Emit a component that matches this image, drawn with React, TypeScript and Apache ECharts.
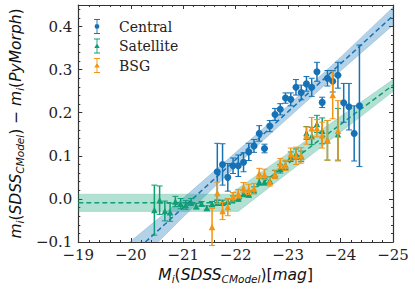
import React, { useEffect, useRef } from "react";
import * as echarts from "echarts";

const BLUE = "#1672b5";
const GREEN = "#0f9e75";
const ORANGE = "#f39412";

// Central: x, y, error
const centralX = [-21.65, -21.75, -21.85, -21.95, -22.05, -22.15, -22.25, -22.35, -22.45, -22.55, -22.65, -22.75, -22.85, -22.95, -23.05, -23.15, -23.25, -23.35, -23.45, -23.55, -23.65, -23.75, -23.85, -23.95, -24.06, -24.16, -24.26, -24.36];
const centralY = [0.063, 0.080, 0.050, 0.077, 0.077, 0.085, 0.109, 0.123, 0.152, 0.117, 0.169, 0.196, 0.208, 0.234, 0.231, 0.259, 0.247, 0.267, 0.259, 0.295, 0.224, 0.280, 0.273, 0.287, 0.223, 0.214, 0.152, 0.216];
const centralErr = [0.066, 0.048, 0.032, 0.018, 0.025, 0.022, 0.020, 0.015, 0.018, 0.010, 0.013, 0.014, 0.013, 0.012, 0.015, 0.018, 0.017, 0.017, 0.021, 0.022, 0.012, 0.018, 0.025, 0.030, 0.045, 0.054, 0.064, 0.141];

// Satellite
const satX = [-20.45, -20.55, -20.65, -20.75, -20.85, -20.95, -21.05, -21.15, -21.25, -21.35, -21.45, -21.55, -21.65, -21.75, -21.85, -21.95, -22.05, -22.15, -22.25, -22.35, -22.45, -22.55, -22.65, -22.75, -22.85, -22.95, -23.05, -23.15, -23.25, -23.35, -23.45, -23.55, -23.65, -23.75, -23.95];
const satY = [-0.026, -0.003, -0.028, -0.031, -0.006, -0.011, -0.014, -0.007, -0.017, -0.011, -0.021, -0.012, -0.009, -0.009, -0.006, 0.001, 0.001, 0.012, 0.011, 0.020, 0.040, 0.040, 0.043, 0.057, 0.070, 0.078, 0.098, 0.104, 0.099, 0.153, 0.146, 0.174, 0.158, 0.136, 0.150];
const satErr = [0.058, 0.033, 0.023, 0.021, 0.012, 0.012, 0.010, 0.008, 0.006, 0.005, 0.005, 0.006, 0.006, 0.006, 0.006, 0.006, 0.006, 0.007, 0.007, 0.008, 0.008, 0.008, 0.008, 0.009, 0.010, 0.010, 0.011, 0.012, 0.012, 0.015, 0.020, 0.020, 0.030, 0.046, 0.060];

// BSG
const bsgX = [-21.55, -21.65, -21.75, -21.85, -21.95, -22.05, -22.15, -22.25, -22.35, -22.45, -22.55, -22.65, -22.75, -22.85, -22.95, -23.05, -23.15, -23.25, -23.35, -23.45, -23.55, -23.65, -23.75, -23.85, -23.95];
const bsgY = [-0.065, 0.014, -0.028, -0.019, 0.005, 0.012, 0.026, 0.022, 0.024, 0.059, 0.057, 0.040, 0.057, 0.082, 0.078, 0.104, 0.100, 0.101, 0.147, 0.164, 0.164, 0.148, 0.136, 0.241, 0.158];
const bsgErr = [0.043, 0.025, 0.020, 0.020, 0.010, 0.010, 0.012, 0.012, 0.012, 0.012, 0.012, 0.010, 0.010, 0.012, 0.012, 0.014, 0.020, 0.018, 0.020, 0.025, 0.020, 0.030, 0.046, 0.055, 0.070];

// Fit lines
const centralFitX = [-20.28, -25];
const centralFitY = [-0.1, 0.425];
const satFitX = [-19, -22.0, -25];
const satFitY = [-0.009, -0.009, 0.264];

// Confidence bands
const centralBandX = [-19.8, -21.0, -22.5, -24.0, -25.0];
const centralBandLo = [-0.188, -0.042, 0.133, 0.297, 0.403];
const centralBandHi = [-0.118, 0.002, 0.161, 0.329, 0.445];
const satBandX = [-19, -21.9, -22.05, -25];
const satBandLo = [-0.029, -0.029, -0.029, 0.249];
const satBandHi = [0.011, 0.011, 0.025, 0.277];

// Axes
const xMin = -25, xMax = -19, xInterval = 1;
const yMin = -0.1, yMax = 0.45, yInterval = 0.1;

const minus = (s: string) => s.replace("-", "\u2212");

const ICON_CIRCLE =
  "path://M0,0H8V1.2H0Z M3.4,0H4.6V20H3.4Z M0,18.8H8V20H0Z M0.8,10A3.2,3.2 0 1,1 7.2,10A3.2,3.2 0 1,1 0.8,10Z";
const ICON_TRI =
  "path://M0,0H8V1.2H0Z M3.4,0H4.6V20H3.4Z M0,18.8H8V20H0Z M4,6.4L7.6,12.6L0.4,12.6Z";

function bandSeries(xs: number[], lo: number[], hi: number[], color: string, z: number) {
  return {
    type: "custom",
    silent: true,
    clip: true,
    z,
    data: xs.map((x, i) => [x, lo[i], hi[i]]),
    encode: { x: 0, y: [1, 2] },
    renderItem: (params: any, api: any) => {
      if (params.dataIndex !== 0) return null;
      const pts: number[][] = [];
      for (let i = 0; i < xs.length; i++) pts.push(api.coord([xs[i], hi[i]]));
      for (let i = xs.length - 1; i >= 0; i--) pts.push(api.coord([xs[i], lo[i]]));
      return {
        type: "polygon",
        shape: { points: pts },
        style: { fill: color, opacity: 0.32, stroke: color, lineWidth: 0.6 },
      };
    },
  };
}

function errSeries(xs: number[], ys: number[], es: number[], color: string, z: number) {
  return {
    type: "custom",
    silent: true,
    clip: false,
    z,
    data: xs.map((x, i) => [x, ys[i] - es[i], ys[i] + es[i]]),
    encode: { x: 0, y: [1, 2] },
    renderItem: (params: any, api: any) => {
      const x = api.value(0);
      const top = api.coord([x, api.value(2)]);
      const bot = api.coord([x, api.value(1)]);
      const cw = 3;
      const st = { stroke: color, lineWidth: 1.5 };
      return {
        type: "group",
        children: [
          { type: "line", shape: { x1: top[0], y1: top[1], x2: bot[0], y2: bot[1] }, style: st },
          { type: "line", shape: { x1: top[0] - cw, y1: top[1], x2: top[0] + cw, y2: top[1] }, style: { stroke: color, lineWidth: 1 } },
          { type: "line", shape: { x1: bot[0] - cw, y1: bot[1], x2: bot[0] + cw, y2: bot[1] }, style: { stroke: color, lineWidth: 1 } },
        ],
      };
    },
  };
}

export default function App() {
  const ref = useRef<HTMLDivElement>(null);
  useEffect(() => {
    if (!ref.current) return;
    const chart = echarts.init(ref.current, undefined, { renderer: "svg" });
    const axisCol = "#333";
    const tickLabel = {
      fontFamily: "DejaVu Serif",
      fontSize: 15,
      color: "#222",
    };
    const commonX = {
      type: "value",
      min: xMin,
      max: xMax,
      interval: xInterval,
      inverse: true,
      splitLine: { show: false },
      axisLine: { show: true, onZero: false, lineStyle: { color: axisCol, width: 1.2 } },
      axisTick: { show: true, inside: true, length: 4, lineStyle: { color: axisCol } },
      minorTick: { show: true, splitNumber: 5, length: 2, lineStyle: { color: axisCol } },
    };
    const commonY = {
      type: "value",
      min: yMin,
      max: yMax,
      interval: yInterval,
      splitLine: { show: false },
      axisLine: { show: true, onZero: false, lineStyle: { color: axisCol, width: 1.2 } },
      axisTick: { show: true, inside: true, length: 4, lineStyle: { color: axisCol } },
      minorTick: { show: true, splitNumber: 5, length: 2, lineStyle: { color: axisCol } },
    };
    const nameRich = {
      m: { fontFamily: "DejaVu Sans", fontStyle: "italic", fontSize: 15.5, color: "#111" },
      u: { fontFamily: "DejaVu Sans", fontSize: 15.5, color: "#111" },
      s: { fontFamily: "DejaVu Sans", fontStyle: "italic", fontSize: 10.5, color: "#111", padding: [7, 0, 0, 0] },
    };
    chart.setOption({
      animation: false,
      grid: { left: 69, right: 22, top: 5, bottom: 47, containLabel: false },
      legend: {
        left: 89,
        top: 14,
        orient: "vertical",
        itemWidth: 6,
        itemHeight: 15,
        itemGap: 4.5,
        textStyle: { fontFamily: "DejaVu Serif", fontSize: 14, color: "#222", padding: [0, 0, 0, 14] },
        data: [
          { name: "Central", icon: ICON_CIRCLE, itemStyle: { color: BLUE } },
          { name: "Satellite", icon: ICON_TRI, itemStyle: { color: GREEN } },
          { name: "BSG", icon: ICON_TRI, itemStyle: { color: ORANGE } },
        ],
      },
      xAxis: [
        {
          ...commonX,
          position: "bottom",
          axisLabel: { ...tickLabel, margin: 5, formatter: (v: number) => minus(String(v)) },
          name: "{m|M}{s|i}{u|(}{m|SDSS}{s|CModel}{u|)[}{m|mag}{u|]}",
          nameLocation: "middle",
          nameGap: 24,
          nameTextStyle: { rich: nameRich },
        },
        { ...commonX, position: "top", axisLabel: { show: false } },
      ],
      yAxis: [
        {
          ...commonY,
          position: "left",
          axisLabel: {
            ...tickLabel,
            margin: 6,
            formatter: (v: number) => {
              const r = Math.round(v * 10) / 10;
              if (Math.abs(r - v) > 1e-6) return "";
              return minus(r.toFixed(1));
            },
          },
          name: "{m|m}{s|i}{u|(}{m|SDSS}{s|CModel}{u|) − }{m|m}{s|i}{u|(}{m|PyMorph}{u|)}",
          nameLocation: "middle",
          nameGap: 39,
          nameRotate: 90,
          nameTextStyle: { rich: nameRich },
        },
        { ...commonY, position: "right", axisLabel: { show: false } },
      ],
      series: [
        bandSeries(centralBandX, centralBandLo, centralBandHi, BLUE, 1),
        bandSeries(satBandX, satBandLo, satBandHi, GREEN, 2),
        {
          type: "line",
          silent: true,
          z: 3,
          symbol: "none",
          data: centralFitX.map((x, i) => [x, centralFitY[i]]),
          lineStyle: { color: BLUE, width: 1.5, type: [5, 3] },
        },
        {
          type: "line",
          silent: true,
          z: 3,
          symbol: "none",
          data: satFitX.map((x, i) => [x, satFitY[i]]),
          lineStyle: { color: GREEN, width: 1.5, type: [5, 3] },
        },
        errSeries(centralX, centralY, centralErr, BLUE, 4),
        {
          name: "Central",
          type: "scatter",
          z: 5,
          symbol: "circle",
          symbolSize: 7,
          itemStyle: { color: BLUE, opacity: 1 },
          data: centralX.map((x, i) => [x, centralY[i]]),
        },
        errSeries(satX, satY, satErr, GREEN, 6),
        {
          name: "Satellite",
          type: "scatter",
          z: 7,
          symbol: "triangle",
          symbolSize: 6.5,
          itemStyle: { color: GREEN, opacity: 1 },
          data: satX.map((x, i) => [x, satY[i]]),
        },
        errSeries(bsgX, bsgY, bsgErr, ORANGE, 8),
        {
          name: "BSG",
          type: "scatter",
          z: 9,
          symbol: "triangle",
          symbolSize: 6.5,
          itemStyle: { color: ORANGE, opacity: 1 },
          data: bsgX.map((x, i) => [x, bsgY[i]]),
        },
      ],
    });
    return () => chart.dispose();
  }, []);
  return (
    <div
      ref={ref}
      style={{ position: "absolute", left: 0, top: 0, width: 415, height: 289, background: "#fff" }}
    />
  );
}
